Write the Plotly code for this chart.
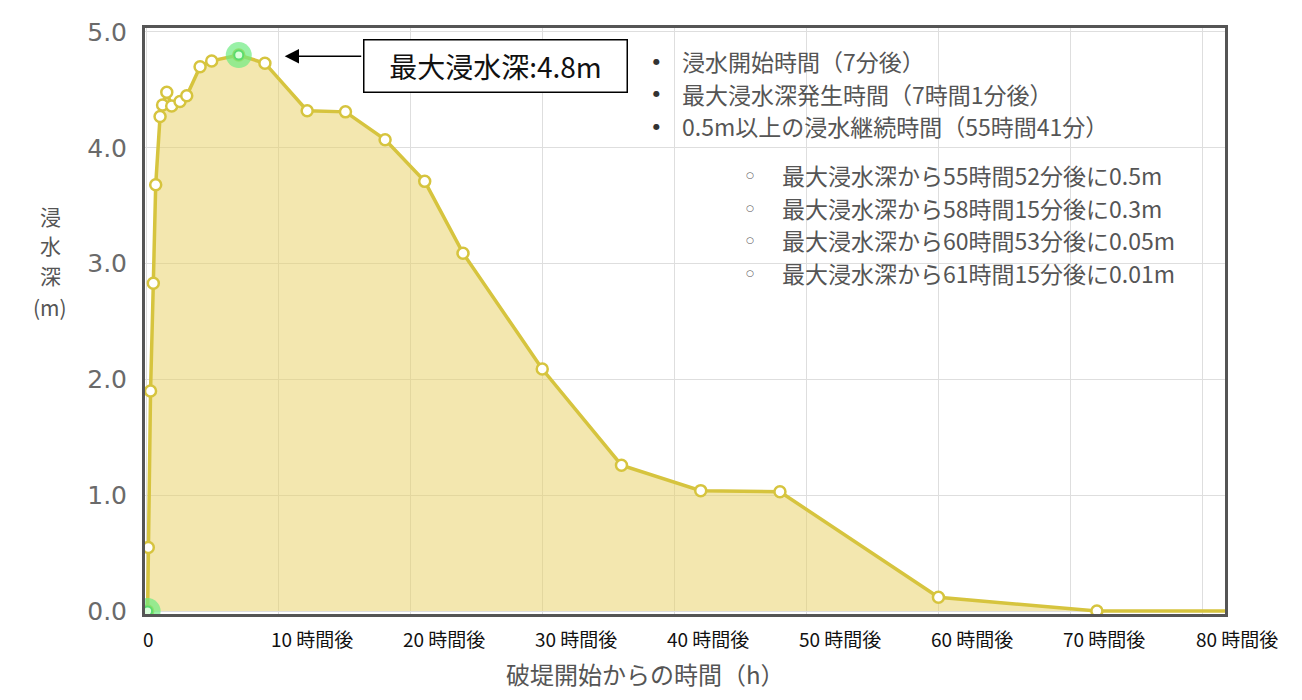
import plotly.graph_objects as go

# ---- data ----
time_h = [0.117, 0.17, 0.34, 0.55, 0.73, 1.06, 1.25, 1.57, 1.94, 2.57, 3.08,
          4.09, 4.97, 7.02, 9.0, 12.2, 15.1, 18.1, 21.1, 24.0, 30.0, 36.0,
          42.0, 48.0, 60.0, 72.0, 84.0]
depth_m = [0.0, 0.55, 1.9, 2.83, 3.68, 4.27, 4.37, 4.48, 4.36, 4.40, 4.45,
           4.70, 4.75, 4.80, 4.73, 4.32, 4.31, 4.07, 3.71, 3.09, 2.09, 1.26,
           1.04, 1.03, 0.12, 0.0, 0.0]
x_tick_vals = [0, 10, 20, 30, 40, 50, 60, 70, 80]
x_tick_text = ["0", "10 時間後", "20 時間後", "30 時間後", "40 時間後",
               "50 時間後", "60 時間後", "70 時間後", "80 時間後"]
y_tick_vals = [0, 1, 2, 3, 4, 5]
y_tick_text = ["0.0", "1.0", "2.0", "3.0", "4.0", "5.0"]
max_label = "最大浸水深:4.8m"
info_main = ["浸水開始時間（7分後）",
             "最大浸水深発生時間（7時間1分後）",
             "0.5m以上の浸水継続時間（55時間41分）"]
info_sub = ["最大浸水深から55時間52分後に0.5m",
            "最大浸水深から58時間15分後に0.3m",
            "最大浸水深から60時間53分後に0.05m",
            "最大浸水深から61時間15分後に0.01m"]
x_title = "破堤開始からの時間（h）"
y_title = ["浸", "水", "深", "(m)"]

# ---- geometry (page pixels; the page body has an 8px margin) ----
OFF = 8
W, H = 1302 - 2 * OFF, 700 - 2 * OFF
L, R, T, B = 145 - OFF, 1225 - OFF, 18 - OFF, 614 - OFF
XR = [-0.08, 81.7]
YR = [-0.025, 5.034]

def px(xp):
    return (xp - OFF - L) / (R - L)

def py(yp):
    return (B - (yp - OFF)) / (B - T)

GOLD = "rgb(214,196,62)"
GRAY = "#555555"
JP = "Noto Sans CJK JP"

fig = go.Figure()
fig.add_trace(go.Scatter(
    x=time_h, y=depth_m, mode="lines+markers",
    line=dict(color=GOLD, width=3.5),
    fill="tozeroy", fillcolor="rgba(232,208,96,0.5)",
    marker=dict(size=11, color="white", line=dict(color=GOLD, width=2.5)),
    hoverinfo="skip", showlegend=False))

imax = depth_m.index(max(depth_m))
hl = [0, imax]
fig.add_trace(go.Scatter(
    x=[time_h[i] for i in hl], y=[depth_m[i] for i in hl], mode="markers",
    marker=dict(size=26, color="rgba(110,235,130,0.7)", line=dict(width=0)),
    hoverinfo="skip", showlegend=False))
fig.add_trace(go.Scatter(
    x=[time_h[i] for i in hl], y=[depth_m[i] for i in hl], mode="markers",
    marker=dict(size=9, color="rgba(225,255,225,0.9)",
                line=dict(color="rgba(90,220,110,1)", width=2)),
    hoverinfo="skip", showlegend=False))

ann = []
# x tick labels
for v, t in zip(x_tick_vals, x_tick_text):
    ann.append(dict(x=v, y=0, xref="x", yref="paper", text=t, showarrow=False,
                    xanchor="center" if v == 0 else "left",
                    xshift=2 if v == 0 else -9, yshift=-24, yanchor="middle",
                    font=dict(family="Liberation Sans Narrow, " + JP, size=19,
                              color="#111")))
# arrow
ann.append(dict(x=10.5, y=4.79, xref="x", yref="y", ax=78, ay=0, text="",
                showarrow=True, arrowhead=2, arrowsize=2.2, arrowwidth=1.3,
                arrowcolor="#000"))
# max box
ann.append(dict(x=px(495), y=py(57), xref="paper", yref="paper", text=max_label,
                showarrow=False, xanchor="center", yanchor="middle",
                width=258, height=47, bgcolor="white", bordercolor="#000",
                borderwidth=1.5, borderpad=2,
                font=dict(family=JP, size=28, color="#111")))
# info list
main_y = [52, 85, 118]
sub_y = [168, 201, 234, 267]
for yy, t in zip(main_y, info_main):
    ann.append(dict(x=px(656), y=py(yy), xref="paper", yref="paper", text="●",
                    showarrow=False, xanchor="center", yanchor="middle",
                    font=dict(family="DejaVu Sans", size=8, color="#333")))
    ann.append(dict(x=px(680), y=py(yy), xref="paper", yref="paper", text=t,
                    showarrow=False, xanchor="left", yanchor="middle",
                    font=dict(family=JP, size=23, color=GRAY)))
for yy, t in zip(sub_y, info_sub):
    ann.append(dict(x=px(750), y=py(yy), xref="paper", yref="paper", text="○",
                    showarrow=False, xanchor="center", yanchor="middle",
                    font=dict(family="DejaVu Sans", size=9, color=GRAY)))
    ann.append(dict(x=px(780), y=py(yy), xref="paper", yref="paper", text=t,
                    showarrow=False, xanchor="left", yanchor="middle",
                    font=dict(family=JP, size=23, color=GRAY)))
# axis titles (stacked vertical y title)
for yy, t in zip([209, 239, 269, 302], y_title):
    ann.append(dict(x=px(50), y=py(yy), xref="paper", yref="paper", text=t,
                    showarrow=False, xanchor="center", yanchor="middle",
                    font=dict(family=JP, size=21, color=GRAY)))
ann.append(dict(x=px(645), y=py(675), xref="paper", yref="paper", text=x_title,
                showarrow=False, xanchor="center", yanchor="middle",
                font=dict(family=JP, size=24, color=GRAY)))

fig.update_layout(
    width=W, height=H, autosize=False,
    margin=dict(l=L, r=W - R, t=T, b=H - B),
    paper_bgcolor="white", plot_bgcolor="white",
    annotations=ann, showlegend=False,
    xaxis=dict(range=XR, tickvals=x_tick_vals, showticklabels=False,
               showgrid=True, gridcolor="#dedede", gridwidth=1, zeroline=False,
               showline=True, linecolor="#555", linewidth=3, mirror=True,
               ticks=""),
    yaxis=dict(range=YR, tickvals=y_tick_vals, ticktext=y_tick_text,
               showgrid=True, gridcolor="#dedede", gridwidth=1, zeroline=False,
               showline=True, linecolor="#555", linewidth=3, mirror=True,
               ticks="", ticklabelstandoff=10, ticklabeloverflow="allow",
               tickfont=dict(family="DejaVu Sans", size=25, color="#6a6a6a")),
)

fig.write_html("out.html")
